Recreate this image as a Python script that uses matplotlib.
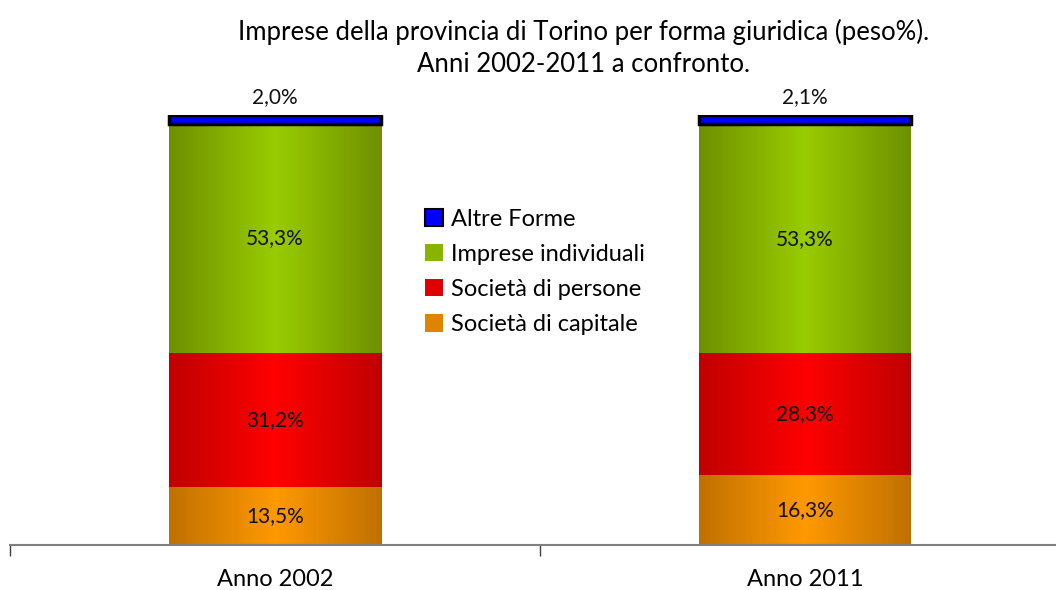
import numpy as np
import matplotlib
matplotlib.use("Agg")
import matplotlib.pyplot as plt
from matplotlib.colors import LinearSegmentedColormap
from matplotlib.patches import Patch, Rectangle

plt.rcParams["font.family"] = ["Lato", "DejaVu Sans"]

years = ["Anno 2002", "Anno 2011"]
series = ["Società di capitale", "Società di persone", "Imprese individuali", "Altre Forme"]
capitale = [13.5, 16.3]
persone = [31.2, 28.3]
individuali = [53.3, 53.3]
altre = [2.0, 2.1]

# edge colour, centre colour for the horizontal gradients
grad_colors = {
    "Società di capitale": ("#c07000", "#ff9900"),
    "Società di persone": ("#c00000", "#ff0000"),
    "Imprese individuali": ("#6e9000", "#99cc00"),
}

fig = plt.figure(figsize=(10.56, 5.9), dpi=100)
ax = fig.add_axes([10 / 1056, 45 / 590, 1060 / 1056, 430 / 590])

x = np.arange(len(years))
width = 0.4
grad = np.abs(np.linspace(-1, 1, 200))[None, :]
grad = 1 - grad

bottom = np.zeros(len(years))
for name, vals in zip(series, [capitale, persone, individuali, altre]):
    vals = np.array(vals)
    for i in range(len(years)):
        x0 = x[i] - width / 2
        y0, y1 = bottom[i], bottom[i] + vals[i]
        label = f"{vals[i]:.1f}".replace(".", ",") + "%"
        if name in grad_colors:
            cmap = LinearSegmentedColormap.from_list(name, grad_colors[name])
            ax.imshow(grad, extent=[x0, x0 + width, y0, y1], aspect="auto",
                      cmap=cmap, vmin=0, vmax=1, zorder=2, interpolation="bilinear")
            ax.text(x[i], (y0 + y1) / 2, label, ha="center", va="center",
                    fontsize=15, color="#111111", zorder=4)
        else:
            ax.add_patch(Rectangle((x0, y0), width, vals[i], facecolor="#0000ff",
                                   edgecolor="black", linewidth=2.5, zorder=3))
            ax.text(x[i], y1 + 1.8, label, ha="center", va="bottom",
                    fontsize=15, color="#111111", zorder=4)
    bottom += vals

ax.set_xlim(-0.5, 1.5)
ax.set_ylim(0, 100)
for s in ["top", "right", "left"]:
    ax.spines[s].set_visible(False)
ax.spines["bottom"].set_color("#808080")
ax.spines["bottom"].set_linewidth(1.5)
ax.spines["bottom"].set_zorder(5)
ax.set_yticks([])
ax.set_xticks([-0.5, 0.5, 1.5])
ax.set_xticklabels([])
ax.tick_params(axis="x", which="major", length=8, color="#404040", width=1)
ax.set_xticks(x, minor=True)
ax.set_xticklabels(years, minor=True, fontsize=17)
ax.tick_params(axis="x", which="minor", length=0, pad=17)

fig.text(0.553, 0.919, "Imprese della provincia di Torino per forma giuridica (peso%).\nAnni 2002-2011 a confronto.",
         ha="center", va="center", fontsize=18.5, linespacing=1.35)

handles = [
    Patch(facecolor="#0000ff", edgecolor="black", linewidth=1.5, label="Altre Forme"),
    Patch(facecolor="#88b400", label="Imprese individuali"),
    Patch(facecolor="#e00000", label="Società di persone"),
    Patch(facecolor="#e08400", label="Società di capitale"),
]
fig.legend(handles=handles, loc="center", bbox_to_anchor=(0.507, 0.539), frameon=False,
           fontsize=17, handlelength=0.75, handleheight=0.75, handletextpad=0.35,
           labelspacing=0.6)

fig.savefig("out.png", dpi=100)
